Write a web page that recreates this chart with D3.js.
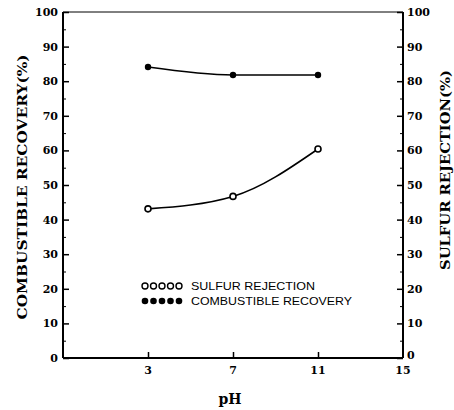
<!DOCTYPE html>
<html><head><meta charset="utf-8">
<script src="https://cdn.jsdelivr.net/npm/d3@7"></script>
<style>body{margin:0;background:#fff}</style>
</head><body>
<svg id="c" width="454" height="410"></svg>
<script>
const phValues = [3, 7, 11];
const combustibleRecovery = [84.1, 81.8, 81.8];
const sulfurRejection = [43.1, 46.7, 60.4];
const xTicks = [3, 7, 11, 15];
const yTicks = [0, 10, 20, 30, 40, 50, 60, 70, 80, 90, 100];
const yMinor = [5, 15, 25, 35, 45, 55, 65, 75, 85, 95];
const legendLabels = ["SULFUR REJECTION", "COMBUSTIBLE RECOVERY"];

const svg = d3.select("#c");
const L = 63, R = 403, T = 12, B = 358;
const x = d3.scaleLinear().domain([-1, 15]).range([L, R]);
const y = d3.scaleLinear().domain([0, 100]).range([B, T]);
const serif = "'DejaVu Serif', 'Liberation Serif', serif";

// frame
svg.append("line").attr("x1", L).attr("x2", R).attr("y1", T).attr("y2", T).attr("stroke", "#000").attr("stroke-width", 1);
svg.append("line").attr("x1", L).attr("x2", R).attr("y1", B).attr("y2", B).attr("stroke", "#000").attr("stroke-width", 2);
svg.append("line").attr("x1", L).attr("x2", L).attr("y1", T).attr("y2", B).attr("stroke", "#000").attr("stroke-width", 2);
svg.append("line").attr("x1", R).attr("x2", R).attr("y1", T).attr("y2", B).attr("stroke", "#000").attr("stroke-width", 2);

// left axis
const gl = svg.append("g").attr("transform", `translate(${L},0)`).call(d3.axisRight(y).tickValues(yTicks).tickSize(6).tickFormat(""));
gl.select(".domain").remove();
gl.selectAll("line").attr("stroke-width", 1.5);
const leftMinor = svg.append("g").attr("transform", `translate(${L},0)`).call(d3.axisRight(y).tickValues(yMinor).tickSize(3).tickFormat(""));
leftMinor.select(".domain").remove();
svg.selectAll(".ylab").data(yTicks).join("text")
  .attr("x", L - 5).attr("y", d => y(d) + 4).attr("text-anchor", "end").attr("fill", "#000")
  .attr("font-family", serif).attr("font-weight", "bold").attr("font-size", 11).text(d => d);

// right axis
const ga = svg.append("g").attr("transform", `translate(${R},0)`).call(d3.axisLeft(y).tickValues(yTicks).tickSize(6).tickFormat(""));
ga.select(".domain").remove();
ga.selectAll("line").attr("stroke-width", 1.5);
const rightMinor = svg.append("g").attr("transform", `translate(${R},0)`).call(d3.axisLeft(y).tickValues(yMinor).tickSize(3).tickFormat(""));
rightMinor.select(".domain").remove();
svg.selectAll(".yrlab").data(yTicks).join("text")
  .attr("x", R + 4).attr("y", d => y(d) + (d === 0 ? 1 : 4)).attr("text-anchor", "start").attr("fill", "#000")
  .attr("font-family", serif).attr("font-weight", "bold").attr("font-size", 11).text(d => d);

// x axis
const gx = svg.append("g").attr("transform", `translate(0,${B})`).call(d3.axisTop(x).tickValues(xTicks.slice(0, 3)).tickSize(6).tickFormat(""));
gx.select(".domain").remove();
gx.selectAll("line").attr("stroke-width", 1.5);
svg.selectAll(".xlab").data(xTicks).join("text")
  .attr("x", d => x(d)).attr("y", B + 16).attr("text-anchor", "middle").attr("fill", "#000")
  .attr("font-family", serif).attr("font-weight", "bold").attr("font-size", 11).text(d => d);

// axis titles
svg.append("text").attr("transform", `translate(27,187) rotate(-90)`).attr("text-anchor", "middle")
  .attr("font-family", serif).attr("font-weight", "bold").attr("font-size", 13)
  .attr("textLength", 265).attr("lengthAdjust", "spacingAndGlyphs").text("COMBUSTIBLE RECOVERY(%)");
svg.append("text").attr("transform", `translate(450,170) rotate(-90)`).attr("text-anchor", "middle")
  .attr("font-family", serif).attr("font-weight", "bold").attr("font-size", 13)
  .attr("textLength", 200).attr("lengthAdjust", "spacingAndGlyphs").text("SULFUR REJECTION(%)");
svg.append("text").attr("x", 230).attr("y", 404).attr("text-anchor", "middle")
  .attr("font-family", serif).attr("font-weight", "bold").attr("font-size", 14).text("pH");

// lines
const line = d3.line().x((d, i) => x(phValues[i])).y(d => y(d)).curve(d3.curveMonotoneX);
svg.append("path").attr("d", line(combustibleRecovery)).attr("fill", "none").attr("stroke", "#000").attr("stroke-width", 1.6);
svg.append("path").attr("d", line(sulfurRejection)).attr("fill", "none").attr("stroke", "#000").attr("stroke-width", 1.6);
svg.selectAll(".cr").data(combustibleRecovery).join("circle")
  .attr("cx", (d, i) => x(phValues[i])).attr("cy", d => y(d)).attr("r", 3.2).attr("fill", "#000");
svg.selectAll(".sr").data(sulfurRejection).join("circle")
  .attr("cx", (d, i) => x(phValues[i])).attr("cy", d => y(d)).attr("r", 3).attr("fill", "#fff").attr("stroke", "#000").attr("stroke-width", 1.6);

// legend
const lx = 145, ly = [286, 301];
const sym = d3.range(5);
svg.selectAll(".l1").data(sym).join("circle").attr("cx", d => lx + d * 8.5).attr("cy", ly[0]).attr("r", 3)
  .attr("fill", "#fff").attr("stroke", "#000").attr("stroke-width", 1.4);
svg.selectAll(".l2").data(sym).join("circle").attr("cx", d => lx + d * 8.5).attr("cy", ly[1]).attr("r", 3.3).attr("fill", "#000");
svg.selectAll(".lt").data(legendLabels).join("text").attr("x", 191).attr("y", (d, i) => ly[i] + 4)
  .attr("font-family", "'Liberation Sans', Arial, sans-serif").attr("font-size", 11).attr("textLength", (d, i) => i === 0 ? 124 : 161)
  .attr("lengthAdjust", "spacingAndGlyphs").text(d => d);
</script>
</body></html>
